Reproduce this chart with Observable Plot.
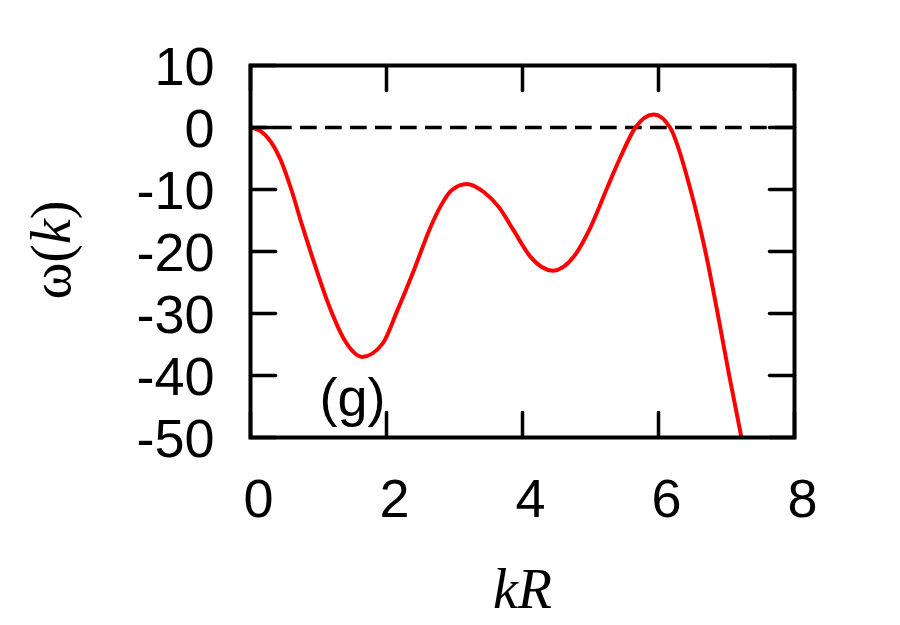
<!DOCTYPE html>
<html>
<head>
<meta charset="utf-8">
<script src="https://cdn.jsdelivr.net/npm/d3@7"></script>
<script src="https://cdn.jsdelivr.net/npm/@observablehq/plot@0.6"></script>
<style>
  html, body { margin: 0; padding: 0; background: #fff; }
  #chart { width: 900px; height: 625px; }
</style>
</head>
<body>
<div id="chart"></div>
<script>
// Data
const kR = [0, 0.15, 0.30, 0.45, 0.60, 0.76, 0.96, 1.15, 1.40, 1.64, 1.94, 2.16, 2.40, 2.65, 2.80, 2.95, 3.18, 3.43, 3.65, 3.87, 4.12, 4.45, 4.75, 5.00, 5.25, 5.44, 5.66, 5.93, 6.17, 6.47, 6.69, 6.87, 7.04, 7.22];
const omega = [0, -0.6, -2.3, -5.4, -10.0, -15.8, -22.6, -28.6, -34.6, -37.0, -34.9, -29.5, -23.1, -16.0, -12.6, -10.2, -9.1, -10.4, -12.8, -16.6, -20.9, -23.1, -20.9, -16.1, -9.6, -4.8, 0, 2.1, 0, -10, -20, -30, -40, -50];
const xTicks = [0, 2, 4, 6, 8];
const yTicks = [-50, -40, -30, -20, -10, 0, 10];
const panelLabel = "(g)";
const xLabel = "kR";

const curve = kR.map((x, i) => ({x, y: omega[i]}));
const sans = "'Liberation Sans', Arial, Helvetica, sans-serif";
const serif = "'Liberation Serif', 'Times New Roman', serif";
const tickShape = {draw(context, l) { context.moveTo(0, 0); context.lineTo(0, -l); }};

const plot = Plot.plot({
  width: 900,
  height: 625,
  marginLeft: 250,
  marginRight: 106,
  marginTop: 65,
  marginBottom: 188,
  style: {background: "#fff", color: "#000"},
  x: {domain: [0, 8]},
  y: {domain: [-50, 10]},
  marks: [
    Plot.ruleY([0], {stroke: "black", strokeWidth: 3.5, strokeDasharray: "16.7,8.3"}),
    Plot.line(curve, {x: "x", y: "y", stroke: "#ff0000", strokeWidth: 4, curve: "monotone-x", clip: true}),
    // inward ticks on all four sides
    Plot.vector(yTicks, {x: 0, y: d => d, length: 25, rotate: 90, anchor: "start", shape: tickShape, stroke: "black", strokeWidth: 3.5}),
    Plot.vector(yTicks, {x: 8, y: d => d, length: 25, rotate: 270, anchor: "start", shape: tickShape, stroke: "black", strokeWidth: 3.5}),
    Plot.vector(xTicks, {x: d => d, y: -50, length: 25, rotate: 0, anchor: "start", shape: tickShape, stroke: "black", strokeWidth: 3.5}),
    Plot.vector(xTicks, {x: d => d, y: 10, length: 25, rotate: 180, anchor: "start", shape: tickShape, stroke: "black", strokeWidth: 3.5}),
    Plot.frame({stroke: "black", strokeWidth: 4}),
    Plot.axisY({ticks: yTicks, tickSize: 0, tickPadding: 36, fontSize: 54, fontFamily: sans, dy: 2, tickFormat: d => String(d), label: null}),
    Plot.axisX({ticks: xTicks, tickSize: 0, tickPadding: 41, fontSize: 54, fontFamily: sans, dx: 8, tickFormat: d => String(d), label: null}),
    Plot.text([panelLabel], {x: 1.5, y: -43.7, text: d => d, fontSize: 54, fontFamily: sans, fill: "black", lineAnchor: "middle"}),
    Plot.text([xLabel], {frameAnchor: "bottom", text: d => d, dy: 170, lineAnchor: "bottom", fontSize: 56, fontFamily: serif, fontStyle: "italic", fill: "black"})
  ]
});

document.getElementById("chart").appendChild(plot);

// Y-axis label ω(k) with italic k
const svg = d3.select(plot);
const t = svg.append("text")
  .attr("transform", "translate(70,250) rotate(-90)")
  .attr("text-anchor", "middle")
  .attr("font-family", serif)
  .attr("font-size", 56)
  .attr("fill", "black");
t.append("tspan").text("ω(");
t.append("tspan").attr("font-style", "italic").text("k");
t.append("tspan").text(")");
</script>
</body>
</html>
